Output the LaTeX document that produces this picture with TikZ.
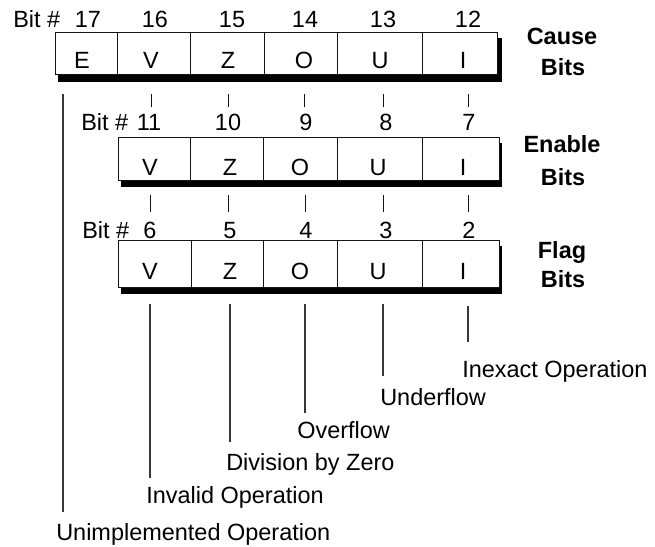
\documentclass[tikz,border=0pt]{standalone}
\usepackage{fontspec}
\setmainfont{Liberation Sans}
\usepackage{tikz}
\usetikzlibrary{calc}
\definecolor{figline}{RGB}{20,20,20}
\tikzset{
  bx/.style   ={draw=figline, line width=0.75pt, fill=white},
  shd/.style  ={fill=black},
  sc/.style   ={draw=figline, line width=0.75pt, line cap=butt},
  lead/.style ={draw=figline!85, line width=1pt, line cap=butt},
  lab/.style  ={font=\fontsize{17.6}{20}\selectfont, inner sep=0pt, anchor=base},
  labw/.style ={font=\fontsize{17.6}{20}\selectfont, inner sep=0pt, anchor=base west},
  hdr/.style  ={font=\fontsize{17.6}{20}\selectfont\bfseries, inner sep=0pt, anchor=base},
}
\begin{document}
\begin{tikzpicture}[x=0.75pt,y=-0.75pt]
  \useasboundingbox (0,0) rectangle (655,546);
  \fill[shd] (58,38) rectangle (502,82);
  \draw[bx] (55,32) rectangle (497,74.5);
  \draw[sc] (117,32) -- (117,74.5);
  \draw[sc] (190,32) -- (190,74.5);
  \draw[sc] (264,32) -- (264,74.5);
  \draw[sc] (337,32) -- (337,74.5);
  \draw[sc] (422,32) -- (422,74.5);
  \node[labw] (bitC) at (13,27) {Bit \#};
  \node[lab] (nC17) at (88,27) {17};
  \node[lab] (nC16) at (155,27) {16};
  \node[lab] (nC15) at (232,27) {15};
  \node[lab] (nC14) at (305,27) {14};
  \node[lab] (nC13) at (383,27) {13};
  \node[lab] (nC12) at (468,27) {12};
  \node[lab] (cE) at (82,68) {E};
  \node[lab] (cV) at (151,68) {V};
  \node[lab] (cZ) at (228,68) {Z};
  \node[lab] (cO) at (304,68) {O};
  \node[lab] (cU) at (380,68) {U};
  \node[lab] (cI) at (463,68) {I};
  \node[hdr] (hCause) at (562,44) {Cause};
  \node[hdr] (hCauseB) at (563,75) {Bits};
  \draw[sc] (151,94) -- (151,107);
  \draw[sc] (228,94) -- (228,107);
  \draw[sc] (304,94) -- (304,107);
  \draw[sc] (383,94) -- (383,107);
  \draw[sc] (468,94) -- (468,107);
  \fill[shd] (121,143) rectangle (502,187);
  \draw[bx] (118,137) rectangle (499,180);
  \draw[sc] (190,137) -- (190,180);
  \draw[sc] (263,137) -- (263,180);
  \draw[sc] (337,137) -- (337,180);
  \draw[sc] (422,137) -- (422,180);
  \node[labw] (bitE) at (81,130) {Bit \#};
  \node[lab] (nE11) at (149,130) {11};
  \node[lab] (nE10) at (228,130) {10};
  \node[lab] (nE9) at (306,130) {9};
  \node[lab] (nE8) at (386,130) {8};
  \node[lab] (nE7) at (469,130) {7};
  \node[lab] (eV) at (150,175) {V};
  \node[lab] (eZ) at (230,175) {Z};
  \node[lab] (eO) at (300,175) {O};
  \node[lab] (eU) at (378,175) {U};
  \node[lab] (eI) at (463,175) {I};
  \node[hdr] (hEnable) at (562,152) {Enable};
  \node[hdr] (hEnableB) at (563,185) {Bits};
  \draw[sc] (150,195) -- (150,212);
  \draw[sc] (228,195) -- (228,212);
  \draw[sc] (305,195) -- (305,212);
  \draw[sc] (383,195) -- (383,212);
  \draw[sc] (468,195) -- (468,212);
  \fill[shd] (121,246) rectangle (502,294);
  \draw[bx] (118,240) rectangle (499,287);
  \draw[sc] (191,240) -- (191,287);
  \draw[sc] (263,240) -- (263,287);
  \draw[sc] (337,240) -- (337,287);
  \draw[sc] (422,240) -- (422,287);
  \node[labw] (bitF) at (82,238) {Bit \#};
  \node[lab] (nF6) at (150,238) {6};
  \node[lab] (nF5) at (230,238) {5};
  \node[lab] (nF4) at (306,238) {4};
  \node[lab] (nF3) at (386,238) {3};
  \node[lab] (nF2) at (469,238) {2};
  \node[lab] (fV) at (150,279) {V};
  \node[lab] (fZ) at (230,279) {Z};
  \node[lab] (fO) at (300,279) {O};
  \node[lab] (fU) at (378,279) {U};
  \node[lab] (fI) at (463,279) {I};
  \node[hdr] (hFlag) at (562,258) {Flag};
  \node[hdr] (hFlagB) at (563,287) {Bits};
  \node[labw] (lUnimp) at (56,540) {Unimplemented Operation};
  \node[labw] (lInv) at (146,503) {Invalid Operation};
  \node[labw] (lDiv) at (226,470) {Division by Zero};
  \node[labw] (lOvf) at (297,438) {Overflow};
  \node[labw] (lUnd) at (380,405) {Underflow};
  \node[labw] (lInx) at (462,377) {Inexact Operation};
  \coordinate (tE) at (63,94);
  \coordinate (tV) at (150,304);
  \coordinate (tZ) at (230,304);
  \coordinate (tO) at (305,304);
  \coordinate (tU) at (383,304);
  \coordinate (tI) at (468,306);
  \draw[lead,shorten >=8pt] (tE) -- (tE |- lUnimp.north);
  \draw[lead,shorten >=6pt] (tV) -- (tV |- lInv.north);
  \draw[lead,shorten >=8pt] (tZ) -- (tZ |- lDiv.north);
  \draw[lead,shorten >=6pt] (tO) -- (tO |- lOvf.north);
  \draw[lead,shorten >=9pt] (tU) -- (tU |- lUnd.north);
  \draw[lead,shorten >=13pt] (tI) -- (tI |- lInx.north);
\end{tikzpicture}
\end{document}
